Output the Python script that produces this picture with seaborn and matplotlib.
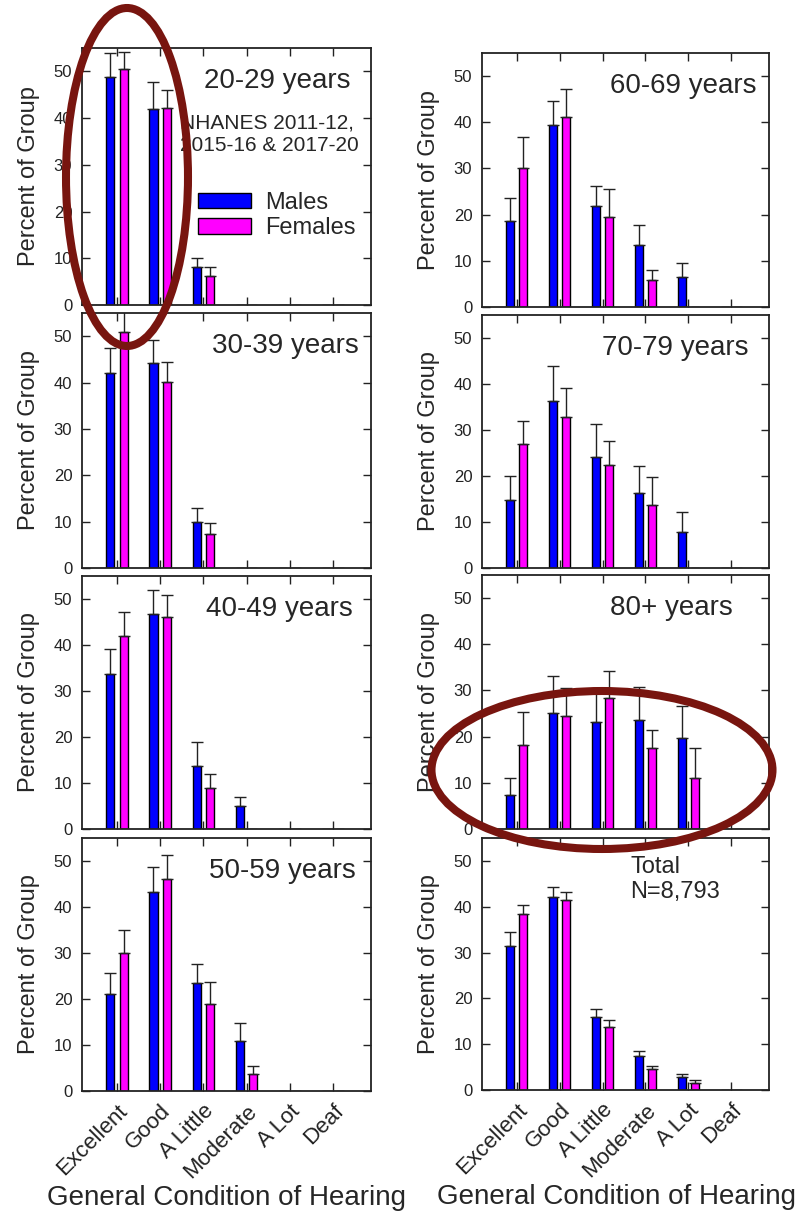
import numpy as np
import pandas as pd
import matplotlib
matplotlib.use("Agg")
import matplotlib.pyplot as plt
from matplotlib.patches import Ellipse, Patch
import seaborn as sns

# ---------------- data ----------------
categories = ["Excellent", "Good", "A Little", "Moderate", "A Lot", "Deaf"]
sexes = ["Males", "Females"]

panel_titles = ["20-29 years", "30-39 years", "40-49 years", "50-59 years",
                "60-69 years", "70-79 years", "80+ years", ""]

males = [
    [48.8, 42.0, 8.1, 0, 0, 0],
    [42.1, 44.2, 9.9, 0, 0, 0],
    [33.7, 46.7, 13.8, 4.9, 0, 0],
    [21.0, 43.3, 23.4, 10.9, 0, 0],
    [18.7, 39.5, 21.8, 13.4, 6.4, 0],
    [14.7, 36.3, 24.2, 16.4, 7.8, 0],
    [7.4, 25.2, 23.2, 23.6, 19.7, 0],
    [31.5, 42.2, 15.9, 7.4, 2.8, 0],
]
males_upper = [
    [53.9, 47.7, 10.1, np.nan, np.nan, np.nan],
    [47.4, 49.1, 13.0, np.nan, np.nan, np.nan],
    [39.1, 52.0, 19.0, 6.9, np.nan, np.nan],
    [25.7, 48.6, 27.7, 14.7, np.nan, np.nan],
    [23.6, 44.7, 26.3, 17.7, 9.5, np.nan],
    [19.9, 43.9, 31.4, 22.1, 12.2, np.nan],
    [11.1, 33.2, 30.0, 30.7, 26.6, np.nan],
    [34.5, 44.3, 17.7, 8.6, 3.5, np.nan],
]
females = [
    [50.6, 42.2, 6.2, 0, 0, 0],
    [51.0, 40.1, 7.3, 0, 0, 0],
    [42.0, 46.1, 9.0, 0, 0, 0],
    [30.0, 46.0, 19.0, 3.8, 0, 0],
    [30.0, 41.1, 19.5, 5.9, 0, 0],
    [27.0, 32.8, 22.5, 13.7, 0, 0],
    [18.2, 24.5, 28.3, 17.5, 11.1, 0],
    [38.5, 41.4, 13.8, 4.5, 1.6, 0],
]
females_upper = [
    [54.1, 46.1, 8.2, np.nan, np.nan, np.nan],
    [56.0, 44.5, 9.8, np.nan, np.nan, np.nan],
    [47.1, 50.9, 11.9, np.nan, np.nan, np.nan],
    [34.9, 51.4, 23.6, 5.5, np.nan, np.nan],
    [36.8, 47.1, 25.5, 8.1, np.nan, np.nan],
    [32.0, 39.1, 27.7, 19.8, np.nan, np.nan],
    [25.4, 30.5, 34.2, 21.5, 17.6, np.nan],
    [40.4, 43.3, 15.3, 5.3, 2.2, np.nan],
]

yticks = [0, 10, 20, 30, 40, 50]

# ---------------- style ----------------
sns.set_style("ticks")
plt.rcParams["font.family"] = ["Liberation Sans", "DejaVu Sans"]

palette = {"Males": "#0000ff", "Females": "#ff00ff"}

W, H = 800, 1219
fig = plt.figure(figsize=(W / 100, H / 100), dpi=100)

# axes boxes in pixels: (left, top, right, bottom)
boxes = [
    (82, 48, 371, 305), (82, 313, 371, 568), (82, 576, 371, 829), (82, 838, 371, 1091),
    (482, 53, 769, 307), (482, 315, 769, 568), (482, 575, 769, 829), (482, 838, 769, 1090),
]
title_x = [0.93, 0.958, 0.938, 0.948, 0.958, 0.927, 0.875, 0.9]

for i in range(8):
    l, t, r, b = boxes[i]
    ax = fig.add_axes([l / W, 1 - b / H, (r - l) / W, (b - t) / H])
    df = pd.DataFrame({
        "cat": categories * 2,
        "sex": ["Males"] * 6 + ["Females"] * 6,
        "val": males[i] + females[i],
    })
    sns.barplot(data=df, x="cat", y="val", hue="sex", order=categories,
                hue_order=sexes, palette=palette, width=0.62, gap=0.39,
                saturation=1, edgecolor="black", linewidth=1.0, errorbar=None,
                legend=False, ax=ax)
    uppers = [males_upper[i], females_upper[i]]
    for cont, up in zip(ax.containers, uppers):
        for patch, u in zip(cont.patches, up):
            if np.isnan(u):
                continue
            xc = patch.get_x() + patch.get_width() / 2
            h = patch.get_height()
            ax.errorbar([xc], [h], yerr=[[0], [u - h]], fmt="none",
                        ecolor="#222222", elinewidth=1.0, capsize=4.2,
                        capthick=1.0, zorder=1)
    ax.set_ylim(0, 55)
    ax.set_xlim(-0.81, 5.88)
    ax.set_yticks(yticks)
    ax.tick_params(direction="in", top=True, right=True, length=6, width=1,
                   labelsize=12, pad=7, colors="#222222")
    for s in ax.spines.values():
        s.set_visible(True)
        s.set_linewidth(1.3)
        s.set_color("#222222")
    ax.set_ylabel("Percent of Group", fontsize=17, labelpad=10)
    ax.set_xticks(range(len(categories)))
    if i in (3, 7):
        ax.set_xticklabels(categories, rotation=45, ha="right",
                           rotation_mode="anchor", fontsize=16)
        ax.set_xlabel("General Condition of Hearing", fontsize=20, labelpad=2)
        if i == 7:
            ax.xaxis.set_label_coords(0.47, -0.372)
    else:
        ax.set_xticklabels([])
        ax.set_xlabel("")
    if panel_titles[i]:
        ax.text(title_x[i], 0.87, panel_titles[i], transform=ax.transAxes,
                ha="right", va="center", fontsize=20)
    if i == 0:
        ax.text(0.339, 0.745, "NHANES 2011-12,\n2015-16 & 2017-20",
                transform=ax.transAxes, ha="left", va="top", fontsize=15,
                linespacing=1.2)
        handles = [Patch(facecolor=palette[s], edgecolor="black", linewidth=1.0)
                   for s in sexes]
        ax.legend(handles, sexes, loc="upper left", bbox_to_anchor=(0.40, 0.44),
                  frameon=False, fontsize=17, handlelength=2.25,
                  handleheight=0.64, handletextpad=0.6, labelspacing=0.15,
                  borderpad=0, borderaxespad=0)
    if i == 7:
        ax.text(0.516, 0.93, "Total\nN=8,793", transform=ax.transAxes,
                ha="left", va="top", fontsize=17, linespacing=1.2)

# red annotation ellipses
ell_color = "#78150f"
e1 = Ellipse((127 / W, 1 - 177 / H), 122 / W, 338 / H, transform=fig.transFigure,
             fill=False, edgecolor=ell_color, linewidth=5.8, zorder=10)
e2 = Ellipse((602 / W, 1 - 770 / H), 341 / W, 158 / H, transform=fig.transFigure,
             fill=False, edgecolor=ell_color, linewidth=5.8, zorder=10)
fig.patches.extend([e1, e2])

fig.savefig("out.png", dpi=100)
